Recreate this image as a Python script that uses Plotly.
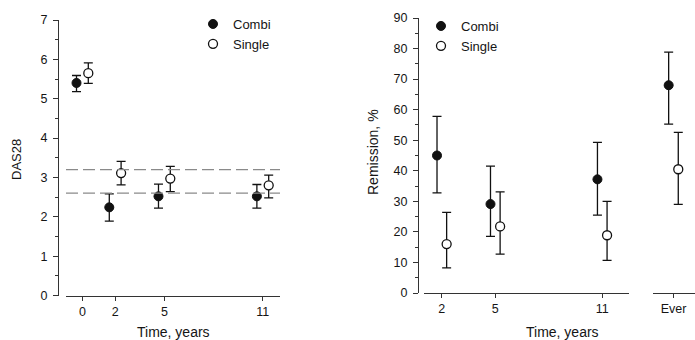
import plotly.graph_objects as go

# ---------------- data ----------------
das_times = [0, 2, 5, 11]
das_tick_labels = ["0", "2", "5", "11"]
das_combi = [5.40, 2.24, 2.52, 2.52]
das_combi_hi = [5.59, 2.58, 2.83, 2.82]
das_combi_lo = [5.18, 1.89, 2.22, 2.22]
das_single = [5.65, 3.11, 2.97, 2.80]
das_single_hi = [5.91, 3.41, 3.28, 3.06]
das_single_lo = [5.39, 2.81, 2.64, 2.48]
das_thresholds = [3.2, 2.6]

rem_categories = ["2", "5", "11", "Ever"]
rem_positions = [2, 5, 11, 15]
rem_combi = [45.0, 29.1, 37.2, 68.0]
rem_combi_hi = [57.8, 41.5, 49.3, 78.8]
rem_combi_lo = [32.8, 18.5, 25.5, 55.3]
rem_single = [16.0, 21.8, 18.9, 40.5]
rem_single_hi = [26.4, 33.1, 30.0, 52.6]
rem_single_lo = [8.2, 12.7, 10.7, 29.0]

# ---------------- helpers / styles ----------------
W, H = 695, 340
FONT = "Liberation Sans, Arial, sans-serif"
INK = "#151515"


def px_x(p):
    return p / W


def px_y(p):
    return 1 - p / H


def err(vals, hi, lo):
    return dict(type="data", symmetric=False,
                array=[h - v for h, v in zip(hi, vals)],
                arrayminus=[v - l for v, l in zip(vals, lo)],
                color="#111111", thickness=1.3, width=4.5)


combi_marker = dict(symbol="circle", size=9, color="#111111",
                    line=dict(color="#111111", width=1))
single_marker = dict(symbol="circle", size=9, color="white",
                     line=dict(color="#111111", width=1.3))

off_left = 0.36
off_right = 0.27

fig = go.Figure()

# ---- left panel: DAS28 ----
fig.add_trace(go.Scatter(
    x=[t - off_left for t in das_times], y=das_combi, mode="markers",
    marker=combi_marker, error_y=err(das_combi, das_combi_hi, das_combi_lo),
    name="Combi", xaxis="x", yaxis="y", legend="legend", cliponaxis=False))
fig.add_trace(go.Scatter(
    x=[t + off_left for t in das_times], y=das_single, mode="markers",
    marker=single_marker, error_y=err(das_single, das_single_hi, das_single_lo),
    name="Single", xaxis="x", yaxis="y", legend="legend", cliponaxis=False))

# ---- right panel: remission ----
main_idx = [i for i, c in enumerate(rem_categories) if c != "Ever"]
ever_idx = [i for i, c in enumerate(rem_categories) if c == "Ever"]

for idx, xa, show in [(main_idx, "x2", True), (ever_idx, "x3", False)]:
    fig.add_trace(go.Scatter(
        x=[rem_positions[i] - off_right for i in idx],
        y=[rem_combi[i] for i in idx], mode="markers", marker=combi_marker,
        error_y=err([rem_combi[i] for i in idx], [rem_combi_hi[i] for i in idx],
                    [rem_combi_lo[i] for i in idx]),
        name="Combi", xaxis=xa, yaxis="y2", legend="legend2",
        legendgroup="rc", showlegend=show, cliponaxis=False))
    fig.add_trace(go.Scatter(
        x=[rem_positions[i] + off_right for i in idx],
        y=[rem_single[i] for i in idx], mode="markers", marker=single_marker,
        error_y=err([rem_single[i] for i in idx], [rem_single_hi[i] for i in idx],
                    [rem_single_lo[i] for i in idx]),
        name="Single", xaxis=xa, yaxis="y2", legend="legend2",
        legendgroup="rs", showlegend=show, cliponaxis=False))

# threshold dashed lines
for th in das_thresholds:
    fig.add_shape(type="line", xref="x", yref="y", x0=-1.0, x1=12.05, y0=th, y1=th,
                  line=dict(color="#8a8a8a", width=1.3, dash="12px,5px"))

axis_common = dict(showgrid=False, zeroline=False, showline=True,
                   linecolor="#333333", linewidth=1.2, ticks="outside",
                   tickcolor="#333333", tickwidth=1.1,
                   tickfont=dict(family=FONT, size=12.5, color=INK),
                   automargin=False, fixedrange=True)

fig.update_layout(
    width=W, height=H, template="none",
    margin=dict(l=0, r=0, t=0, b=0),
    paper_bgcolor="white", plot_bgcolor="rgba(0,0,0,0)",
    font=dict(family=FONT, color=INK),
    xaxis=dict(axis_common, domain=[px_x(66), px_x(280)], range=[-1.0, 12.05],
               anchor="y", tickmode="array", tickvals=das_times,
               ticktext=das_tick_labels, ticklen=4),
    yaxis=dict(axis_common, domain=[px_y(295.5), px_y(20)], range=[0, 7],
               anchor="free", position=px_x(58), dtick=1, tick0=0, ticklen=5,
               ticklabelstandoff=3,
               minor=dict(dtick=0.5, ticks="outside", ticklen=3,
                          tickcolor="#333333", tickwidth=1)),
    xaxis2=dict(axis_common, domain=[px_x(424), px_x(629)], range=[1.0, 12.5],
                anchor="y2", tickmode="array", tickvals=rem_positions[:3],
                ticktext=rem_categories[:3], ticklen=4),
    xaxis3=dict(axis_common, domain=[px_x(653), 1.0], range=[13.85, 16.21],
                anchor="y2", tickmode="array", tickvals=rem_positions[3:],
                ticktext=rem_categories[3:], ticklen=4),
    yaxis2=dict(axis_common, domain=[px_y(293), px_y(18)], range=[0, 90],
                anchor="free", position=px_x(418), dtick=10, tick0=0, ticklen=5,
                ticklabelstandoff=3,
                minor=dict(dtick=5, ticks="outside", ticklen=3,
                           tickcolor="#333333", tickwidth=1)),
    legend=dict(x=px_x(193), y=px_y(9), xanchor="left", yanchor="top",
                bgcolor="rgba(0,0,0,0)", borderwidth=0,
                font=dict(family=FONT, size=13, color=INK), tracegroupgap=0),
    legend2=dict(x=px_x(421), y=px_y(11), xanchor="left", yanchor="top",
                 bgcolor="rgba(0,0,0,0)", borderwidth=0,
                 font=dict(family=FONT, size=13, color=INK), tracegroupgap=0),
)

title_font = dict(family=FONT, size=14, color=INK)
fig.add_annotation(text="DAS28", x=px_x(16), y=px_y(160), xref="paper", yref="paper",
                   textangle=-90, showarrow=False, xanchor="center", yanchor="middle",
                   font=dict(family=FONT, size=13, color=INK))
fig.add_annotation(text="Remission, %", x=px_x(373), y=px_y(152), xref="paper",
                   yref="paper", textangle=-90, showarrow=False, xanchor="center",
                   yanchor="middle", font=title_font)
fig.add_annotation(text="Time, years", x=px_x(173), y=px_y(332), xref="paper",
                   yref="paper", showarrow=False, xanchor="center", yanchor="middle",
                   font=title_font)
fig.add_annotation(text="Time, years", x=px_x(562), y=px_y(332), xref="paper",
                   yref="paper", showarrow=False, xanchor="center", yanchor="middle",
                   font=title_font)

fig.write_html("out.html", config={"displayModeBar": False})
